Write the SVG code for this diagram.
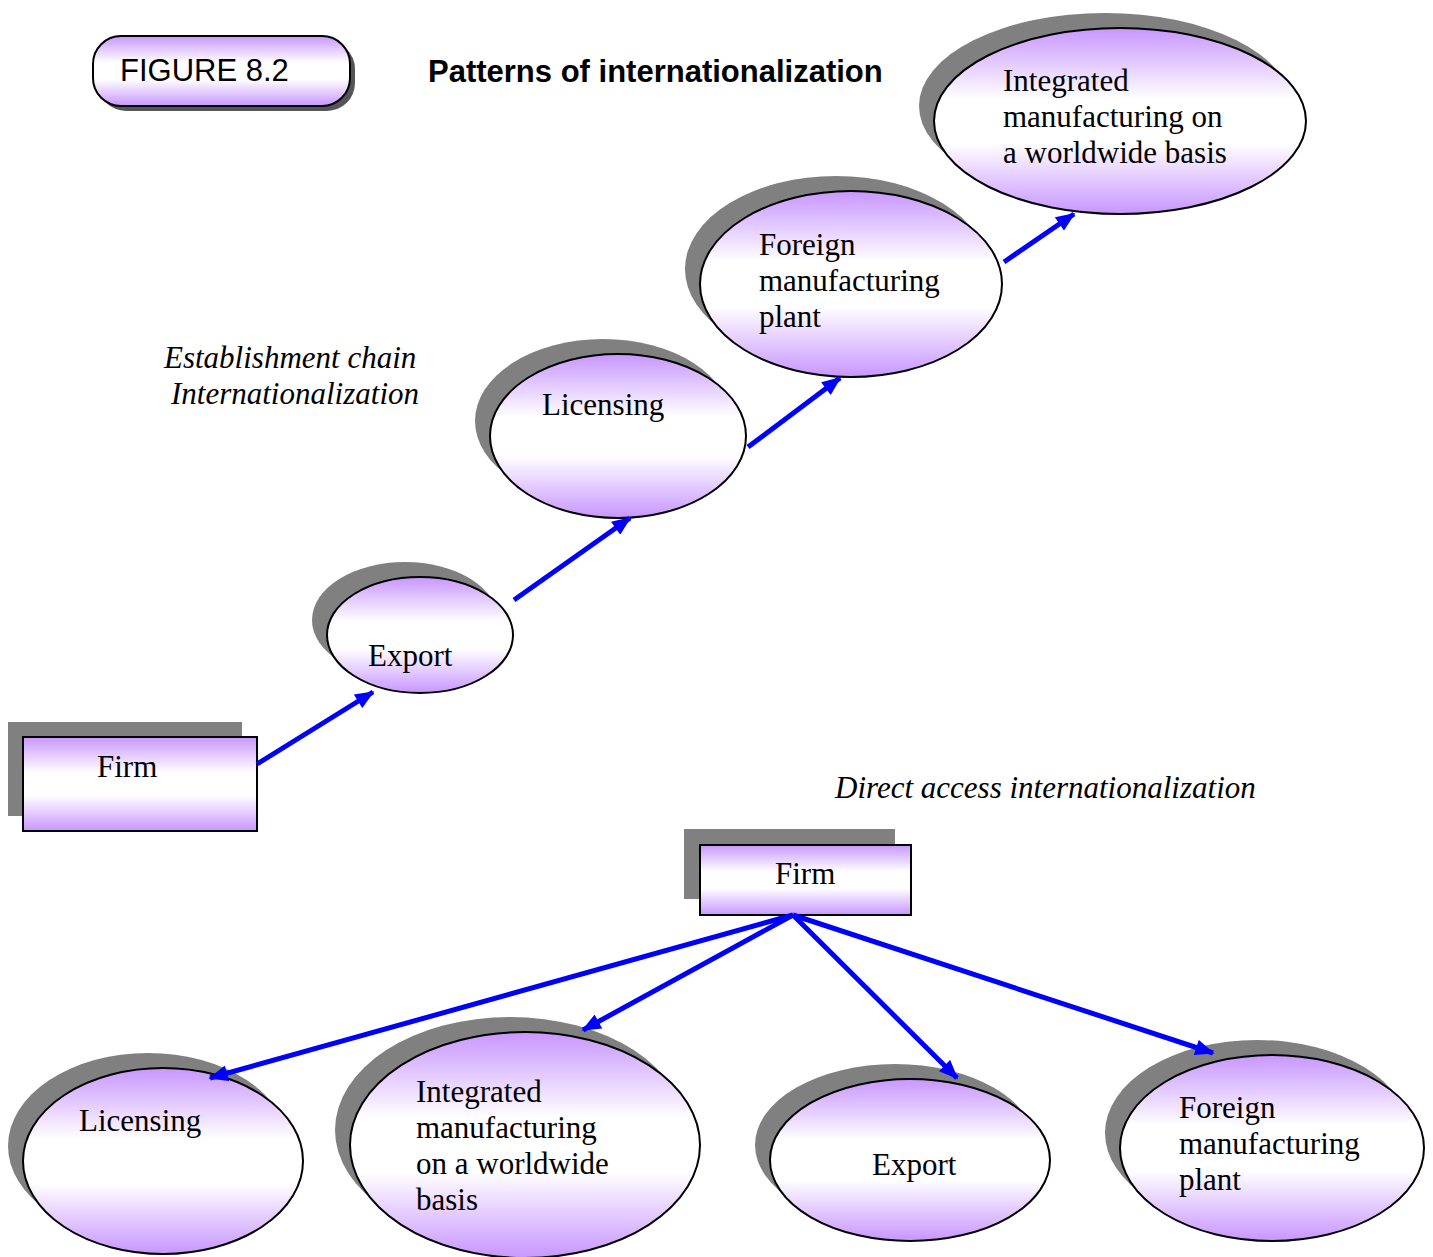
<svg xmlns="http://www.w3.org/2000/svg" width="1433" height="1257" viewBox="0 0 1433 1257">
  <defs>
    <linearGradient id="fill" x1="0" y1="0" x2="0" y2="1">
      <stop offset="0" stop-color="#C896FF"/>
      <stop offset="0.38" stop-color="#FFFFFF"/>
      <stop offset="0.62" stop-color="#FFFFFF"/>
      <stop offset="1" stop-color="#C896FF"/>
    </linearGradient>
    <marker id="arrow" viewBox="0 0 12 10" refX="11" refY="5" markerWidth="4" markerHeight="3.2" markerUnits="strokeWidth" orient="auto">
      <path d="M0,0 L12,5 L0,10 z" fill="#0000FF"/>
    </marker>
  </defs>
  <style>
    .shadow { fill: #808080; }
    .shape { fill: url(#fill); stroke: #000; stroke-width: 2; }
    .label { font-family: "Liberation Serif", "Times New Roman", serif; font-size: 31px; fill: #000; }
    .caption { font-family: "Liberation Serif", "Times New Roman", serif; font-size: 31px; font-style: italic; fill: #000; }
    .sans { font-family: "Liberation Sans", Arial, sans-serif; font-size: 31px; fill: #000; }
    .link { stroke: #0000FF; stroke-width: 5; fill: none; marker-end: url(#arrow); }
  </style>
  <rect width="1433" height="1257" fill="#FFFFFF"/>

  <!-- heading -->
  <g id="figure-tag">
    <rect x="98" y="41" width="257" height="70" rx="28" fill="#555555"/>
    <rect x="93" y="36" width="257" height="70" rx="28" class="shape"/>
    <text class="sans" x="120" y="81">FIGURE 8.2</text>
  </g>
  <text id="title" class="sans" x="428" y="82" font-weight="bold">Patterns of internationalization</text>

  <!-- captions -->
  <text class="caption" x="164" y="368">Establishment chain</text>
  <text class="caption" x="171" y="404">Internationalization</text>
  <text class="caption" x="835" y="798">Direct access internationalization</text>

  <!-- establishment chain -->
  <g id="firm-chain">
    <rect x="8" y="722" width="234" height="94" class="shadow"/>
    <rect x="23" y="737" width="234" height="94" class="shape"/>
    <text class="label" x="97" y="777">Firm</text>
  </g>
  <g id="export-chain">
    <ellipse cx="405" cy="620" rx="93" ry="58" class="shadow"/>
    <ellipse cx="420" cy="635" rx="93" ry="58" class="shape"/>
    <text class="label" x="368" y="666">Export</text>
  </g>
  <g id="licensing-chain">
    <ellipse cx="603" cy="421" rx="128" ry="82" class="shadow"/>
    <ellipse cx="618" cy="436" rx="128" ry="82" class="shape"/>
    <text class="label" x="542" y="415">Licensing</text>
  </g>
  <g id="foreign-chain">
    <ellipse cx="836" cy="269" rx="151" ry="93" class="shadow"/>
    <ellipse cx="851" cy="284" rx="151" ry="93" class="shape"/>
    <text class="label" x="759" y="255">Foreign</text>
    <text class="label" x="759" y="291">manufacturing</text>
    <text class="label" x="759" y="327">plant</text>
  </g>
  <g id="integrated-chain">
    <ellipse cx="1105" cy="106" rx="186" ry="93" class="shadow"/>
    <ellipse cx="1120" cy="121" rx="186" ry="93" class="shape"/>
    <text class="label" x="1003" y="91">Integrated</text>
    <text class="label" x="1003" y="127">manufacturing on</text>
    <text class="label" x="1003" y="163">a worldwide basis</text>
  </g>

  <!-- direct access -->
  <g id="firm-direct">
    <rect x="684" y="829" width="211" height="70" class="shadow"/>
    <rect x="700" y="845" width="211" height="70" class="shape"/>
    <text class="label" x="775" y="884">Firm</text>
  </g>
  <g id="licensing-direct">
    <ellipse cx="148" cy="1146" rx="140" ry="93" class="shadow"/>
    <ellipse cx="163" cy="1161" rx="140" ry="93" class="shape"/>
    <text class="label" x="79" y="1131">Licensing</text>
  </g>
  <g id="integrated-direct">
    <ellipse cx="510" cy="1130" rx="175" ry="113" class="shadow"/>
    <ellipse cx="525" cy="1145" rx="175" ry="113" class="shape"/>
    <text class="label" x="416" y="1102">Integrated</text>
    <text class="label" x="416" y="1138">manufacturing</text>
    <text class="label" x="416" y="1174">on a worldwide</text>
    <text class="label" x="416" y="1210">basis</text>
  </g>
  <g id="export-direct">
    <ellipse cx="895" cy="1145" rx="140" ry="81" class="shadow"/>
    <ellipse cx="910" cy="1160" rx="140" ry="81" class="shape"/>
    <text class="label" x="872" y="1175">Export</text>
  </g>
  <g id="foreign-direct">
    <ellipse cx="1257" cy="1133" rx="152" ry="93" class="shadow"/>
    <ellipse cx="1272" cy="1148" rx="152" ry="93" class="shape"/>
    <text class="label" x="1179" y="1118">Foreign</text>
    <text class="label" x="1179" y="1154">manufacturing</text>
    <text class="label" x="1179" y="1190">plant</text>
  </g>

  <!-- connectors -->
  <g id="connectors">
    <line class="link" x1="257" y1="764" x2="373" y2="692"/>
    <line class="link" x1="514" y1="600" x2="630" y2="518"/>
    <line class="link" x1="748" y1="447" x2="840" y2="378"/>
    <line class="link" x1="1004" y1="262" x2="1074" y2="214"/>
    <line class="link" x1="793" y1="915" x2="210" y2="1078"/>
    <line class="link" x1="793" y1="915" x2="583" y2="1030"/>
    <line class="link" x1="793" y1="915" x2="957" y2="1078"/>
    <line class="link" x1="793" y1="915" x2="1213" y2="1053"/>
  </g>
</svg>
